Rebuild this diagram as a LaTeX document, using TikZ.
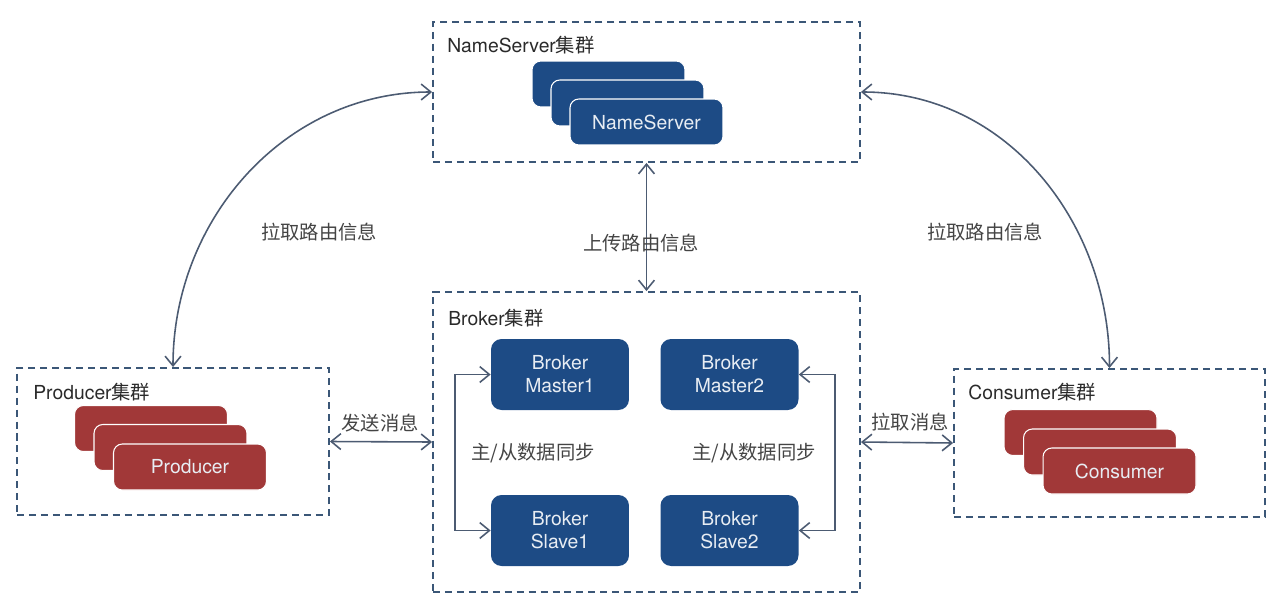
\documentclass[tikz,border=0pt]{standalone}
\usepackage{fontspec}
\setmainfont{TeX Gyre Heros}
\newfontfamily\cjk{Noto Sans CJK SC}
\usetikzlibrary{arrows.meta}
\definecolor{cardblue}{HTML}{1D4B85}
\definecolor{cardred}{HTML}{A13838}
\definecolor{dashcol}{HTML}{3B5777}
\definecolor{arrcol}{HTML}{4C5B72}
\definecolor{titlecol}{HTML}{2A2A2A}
\definecolor{labcol}{HTML}{444444}
\definecolor{cardtext}{HTML}{E8EDF3}
\tikzset{
  grp/.style={draw=dashcol, line width=1.1pt, dash pattern=on 4pt off 2.8pt, minimum width=#1},
  bluecard/.style={fill=cardblue, draw=white, line width=0.6pt, rounded corners=5pt, minimum width=3.06cm, minimum height=0.92cm, text=cardtext, font=\fontsize{11}{13}\selectfont},
  redcard/.style={fill=cardred, draw=white, line width=0.6pt, rounded corners=5pt, minimum width=3.06cm, minimum height=0.92cm, text=cardtext, font=\fontsize{11}{13}\selectfont},
  brk/.style={fill=cardblue, draw=none, rounded corners=6pt, minimum width=2.76cm, minimum height=1.42cm, text=cardtext, align=center, font=\fontsize{11}{13}\selectfont},
  grptitle/.style={anchor=west, text=titlecol, font=\fontsize{11}{13}\selectfont, inner sep=0pt},
  lab/.style={text=labcol, font=\cjk\fontsize{11}{13}\selectfont, inner sep=0pt},
  conn/.style={draw=arrcol, line width=0.9pt, {Straight Barb[length=5.5pt,width=9pt]}-{Straight Barb[length=5.5pt,width=9pt]}},
}
\begin{document}
\begin{tikzpicture}[x=0.02cm, y=-0.02cm]
\useasboundingbox (0,0) rectangle (1280,612);
% group boxes
\node[grp=8.54cm, minimum height=2.8cm] (ns) at (646.5,92) {};
\node[grp=8.54cm, minimum height=6cm] (broker) at (646.5,442) {};
\node[grp=6.24cm, minimum height=2.94cm] (prod) at (173,441.5) {};
\node[grp=6.22cm, minimum height=2.96cm] (cons) at (1109.5,443) {};
% titles
\node[grptitle] (nst) at (447,45) {NameServer{\cjk 集群}};
\node[grptitle] (brt) at (448,318) {Broker{\cjk 集群}};
\node[grptitle] (prt) at (33,392) {Producer{\cjk 集群}};
\node[grptitle] (cst) at (968,392) {Consumer{\cjk 集群}};
% NameServer cards
\node[bluecard] (ns1) at (608.5,84) {};
\node[bluecard] (ns2) at (627.5,103) {};
\node[bluecard] (ns3) at (646.5,122) {NameServer};
% Producer cards
\node[redcard] (p1) at (151,428.5) {};
\node[redcard] (p2) at (170.5,447.5) {};
\node[redcard] (p3) at (190,467) {Producer};
% Consumer cards
\node[redcard] (c1) at (1080.5,432.5) {};
\node[redcard] (c2) at (1100,452) {};
\node[redcard] (c3) at (1119.5,471) {Consumer};
% Brokers
\node[brk] (m1) at (560,374.5) {Broker\\Master1};
\node[brk] (m2) at (729.5,374.5) {Broker\\Master2};
\node[brk] (s1) at (560,530.5) {Broker\\Slave1};
\node[brk] (s2) at (729.5,530.5) {Broker\\Slave2};
% master/slave sync
\coordinate (lt) at (455,374.5);
\coordinate (lb) at (455,530.5);
\coordinate (rt) at (835,374.5);
\coordinate (rb) at (835,530.5);
\draw[conn] (m1.west) -- (lt) -- (lb) -- (s1.west);
\draw[conn] (m2.east) -- (rt) -- (rb) -- (s2.east);
\node[lab] (l1) at (533,453) {主/从数据同步};
\node[lab] (l2) at (754,453) {主/从数据同步};
% connectors
\draw[conn] (ns.south) -- (broker.north);
\node[lab] (l3) at (641,243) {上传路由信息};
\draw[conn] (prod.east) -- (broker.west);
\node[lab] (l4) at (380,423) {发送消息};
\draw[conn] (broker.east) -- (cons.west);
\node[lab] (l5) at (910,422) {拉取消息};
\draw[conn] (prod.north) to[out=90,in=180] (ns.west);
\node[lab] (l6) at (319,232) {拉取路由信息};
\draw[conn] (ns.east) to[out=0,in=90] (cons.north);
\node[lab] (l7) at (985,232) {拉取路由信息};
\end{tikzpicture}
\end{document}
